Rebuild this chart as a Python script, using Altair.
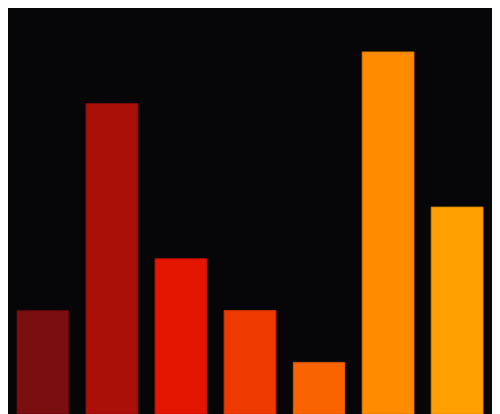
import altair as alt
import pandas as pd

categories = ["A", "B", "C", "D", "E", "F", "G"]
values = [2, 6, 3, 2, 1, 7, 4]
fills = ["#7a0e10", "#aa1008", "#e31500", "#ee3a00", "#f96400", "#ff8c00", "#ffa000"]
strokes = ["#5c0a0b", "#8e0d06", "#c41200", "#d03200", "#c85000", "#dc7800", "#dc8a00"]
dashed = [False, False, False, False, True, False, False]

df = pd.DataFrame({"cat": categories, "value": values, "dashed": dashed})

chart = (
    alt.Chart(df)
    .mark_bar(strokeWidth=1)
    .encode(
        x=alt.X("cat:N", axis=None, sort=categories,
                scale=alt.Scale(paddingInner=0.25, paddingOuter=0.13)),
        y=alt.Y("value:Q", axis=None, scale=alt.Scale(domain=[0, 7.85], nice=False)),
        color=alt.Color("cat:N", scale=alt.Scale(domain=categories, range=fills), legend=None),
        stroke=alt.Stroke("cat:N", scale=alt.Scale(domain=categories, range=strokes), legend=None),
        strokeDash=alt.condition("datum.dashed", alt.value([1, 1]), alt.value([1, 0])),
    )
    .properties(width=484, height=406, background="#060508", padding=0)
    .configure_view(strokeWidth=0)
)

chart.save("out.html", embed_options={"renderer": "svg", "actions": False})
